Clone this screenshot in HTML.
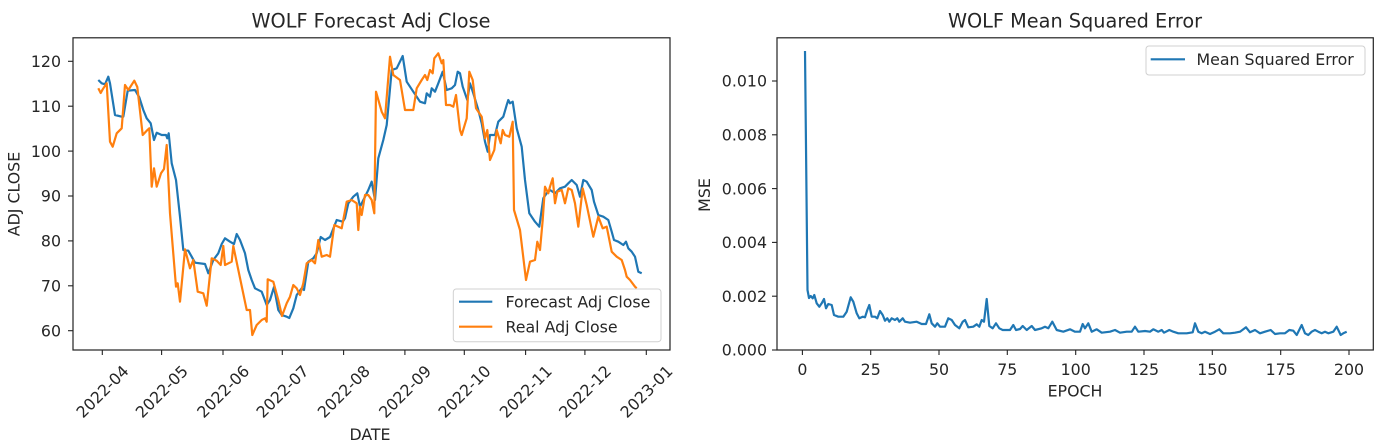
<!DOCTYPE html>
<html><head><meta charset="utf-8"><style>
html,body{margin:0;padding:0;background:#fff;}
svg{display:block;}
text{font-family:"DejaVu Sans","Liberation Sans",sans-serif;fill:#262626;}
.t{font-size:15.8px;}
.ti{font-size:19.3px;}
</style></head><body>
<svg width="1379" height="447" viewBox="0 0 1379 447" xmlns="http://www.w3.org/2000/svg">
<rect width="1379" height="447" fill="#fff"/>

<!-- LEFT CHART -->
<text class="ti" x="371" y="27.7" text-anchor="middle">WOLF Forecast Adj Close</text>

<polyline fill="none" stroke="#1f77b4" stroke-width="2.2" stroke-linejoin="round" points="98.3,80 101.7,83.3 105,84.3 108.3,76.7 110,83.3 115,115 121.7,116.7 123.3,116.7 127.7,90.7 135,90 139.3,97.3 143.3,110 146.7,118.3 150.7,123.3 154,140 156.7,132.7 161.7,135 166,135 167.3,138.3 168.7,133.3 171.7,163.3 176,180 180,216.7 183.3,250 188.3,250.7 191.7,256.7 195,262.7 205,264 208.3,273.3 213.3,260 218.3,253.3 221.7,244 225,238.3 230,241.7 234,244 236.7,234 240,240 245,253.3 248.3,270 251.7,280 255,288.3 261.7,291.7 266.7,305 270,300 274,287 278.3,310 281.7,315 286.7,316.7 289.3,318 293.3,308.3 296.7,295 301.7,288.3 304,290 308.3,261.7 313.3,258.3 316.7,253.3 320.7,237 325,240 330,237 336.7,220 342.7,221.7 345,218.3 348.3,203.3 353.3,196.7 357.3,193.3 360,206.7 365,196.7 368.3,190 371.7,181.7 375,200 378.3,158.3 383.3,140 386.7,125 391.7,70 396.7,68.3 402.7,56 406.7,81.7 413.3,91.7 420,101.7 425,103.3 426.7,93.3 430,96.7 431.7,88.3 435,91.7 438.3,83.3 442.7,71.7 446.7,90 451.7,88.3 455,85 457.7,71.7 460,73.3 462.7,86.7 467.3,100 470,83.3 473.3,93.3 478.3,110 481.7,123.3 485,141.7 487.7,151.7 490,135 495,135 498.3,121.7 503.3,116.7 506.7,105 508.3,100 510,103.3 512.7,101.7 516.7,128.3 521.7,146.7 525,180 529.3,213.3 535,221.7 539.3,226.7 543.3,198.3 546.7,193.3 550,190 555,193.3 560,188.3 565,186.7 568.3,183.3 571.7,180 576.7,185 580,196.7 583.3,180 586.7,181.7 591.7,190 594,201.7 598.3,215 603.3,216.7 608.3,220 611.7,231.7 614,240 618.3,241.7 623.3,245 626,241.7 628.3,248.3 631.7,251.7 635,256.7 638.3,271.7 641.7,273.3"/>

<polyline fill="none" stroke="#ff7f0e" stroke-width="2.2" stroke-linejoin="round" points="98.3,88.3 100.7,93 102.7,89.3 106.7,83.3 110,141.7 112.7,146.7 116.7,133.3 121.7,128.3 125,85 128.3,90 134.3,80.7 137.3,87 142.7,135 146.7,130.7 149.3,128.3 151.7,186.7 154,168.3 156.7,186.7 161,173.3 164,169 166.7,145 170,213.3 176,286.7 177.7,283.3 180,301.7 185,249.3 190,268.3 193.3,260 197.7,291.7 203.3,293.3 206.7,305.7 211.7,258.3 216.7,260.7 220.7,265 223.3,246 225,265 231.7,261.7 233.3,246 246.7,310 250,310 252.3,335 256.7,325 261.7,320 265,318.3 266.7,321.7 267.7,279.3 273.3,281.7 278.3,300 282,316 286.7,303.3 290,296.7 293.3,285 296.7,288.3 300,295 303.3,283.3 306.7,263.3 311.7,260 315,263.3 318.3,240 321.7,256.7 326.7,255 330,256.7 334.3,225 338.3,226.7 341.7,228.3 346.7,201.7 351.7,200 356.7,203.3 358.3,230 360,206.7 361.7,215 365,195 368.3,195 371.7,200 374.3,213.3 376,91.7 381.7,111.7 385,118.3 390,56.7 393.3,75 400,80 405,110 413.3,110 416.7,88.3 421.7,80 425,75 427.3,80 430,70 432.7,73.3 434.3,58.3 438.3,53.3 441.7,63.3 443.3,60 446,105 450,105 453.3,106.7 456,95 460,130 461.7,135 466.7,118.3 469.3,71.7 472.7,80 476,108.3 481.7,116.7 485,138.3 487.3,130 490,160 494.3,150 496.7,130 500.7,143.3 502.7,130 505,135 509.3,136.7 512.7,121.7 514,210 520,230 526,280 530,261.7 535,260 537.3,241.7 540,250 542.7,220 545,186.7 548.3,193.3 550,186.7 552.7,178.3 555,203.3 557.3,191.7 561.7,190 565,203.3 568.3,188.3 571.7,190 575,203.3 578.3,226.7 582.7,188.3 586.7,205 593.3,236.7 598.3,216.7 602.7,228.3 606.7,226.7 611.7,251.7 616.7,256.7 621.7,260 625,270 626.7,276.7 630,280 635,286.7 636.7,288.3"/>

<rect x="73" y="37.8" width="597" height="312.2" fill="none" stroke="#222" stroke-width="1.2"/>

<!-- left y ticks -->
<g stroke="#222" stroke-width="1.1">
<line x1="68" y1="61.3" x2="73" y2="61.3"/><line x1="68" y1="106.2" x2="73" y2="106.2"/><line x1="68" y1="151.1" x2="73" y2="151.1"/><line x1="68" y1="196" x2="73" y2="196"/><line x1="68" y1="240.9" x2="73" y2="240.9"/><line x1="68" y1="285.8" x2="73" y2="285.8"/><line x1="68" y1="330.7" x2="73" y2="330.7"/>
</g>
<g class="t" text-anchor="end">
<text class="t" x="61" y="67">120</text><text class="t" x="61" y="111.9">110</text><text class="t" x="61" y="156.8">100</text><text class="t" x="61" y="201.7">90</text><text class="t" x="61" y="246.6">80</text><text class="t" x="61" y="291.5">70</text><text class="t" x="61" y="336.4">60</text>
</g>

<!-- left x ticks -->
<g stroke="#222" stroke-width="1.1">
<line x1="102.3" y1="350" x2="102.3" y2="355"/><line x1="161.6" y1="350" x2="161.6" y2="355"/><line x1="223" y1="350" x2="223" y2="355"/><line x1="282.3" y1="350" x2="282.3" y2="355"/><line x1="343.6" y1="350" x2="343.6" y2="355"/><line x1="404.9" y1="350" x2="404.9" y2="355"/><line x1="464.3" y1="350" x2="464.3" y2="355"/><line x1="525.6" y1="350" x2="525.6" y2="355"/><line x1="584.9" y1="350" x2="584.9" y2="355"/><line x1="646.3" y1="350" x2="646.3" y2="355"/>
</g>
<g>
<text class="t" text-anchor="middle" y="5.7" transform="translate(102.3,391.5) rotate(-45)">2022-04</text>
<text class="t" text-anchor="middle" y="5.7" transform="translate(161.6,391.5) rotate(-45)">2022-05</text>
<text class="t" text-anchor="middle" y="5.7" transform="translate(223,391.5) rotate(-45)">2022-06</text>
<text class="t" text-anchor="middle" y="5.7" transform="translate(282.3,391.5) rotate(-45)">2022-07</text>
<text class="t" text-anchor="middle" y="5.7" transform="translate(343.6,391.5) rotate(-45)">2022-08</text>
<text class="t" text-anchor="middle" y="5.7" transform="translate(404.9,391.5) rotate(-45)">2022-09</text>
<text class="t" text-anchor="middle" y="5.7" transform="translate(464.3,391.5) rotate(-45)">2022-10</text>
<text class="t" text-anchor="middle" y="5.7" transform="translate(525.6,391.5) rotate(-45)">2022-11</text>
<text class="t" text-anchor="middle" y="5.7" transform="translate(584.9,391.5) rotate(-45)">2022-12</text>
<text class="t" text-anchor="middle" y="5.7" transform="translate(646.3,391.5) rotate(-45)">2023-01</text>
</g>
<text class="t" x="370" y="440" text-anchor="middle">DATE</text>
<text class="t" text-anchor="middle" transform="translate(19.5,194) rotate(-90)">ADJ CLOSE</text>

<!-- left legend -->
<rect x="453.3" y="289" width="207.7" height="52.7" rx="3" fill="#fff" fill-opacity="0.8" stroke="#d0d0d0" stroke-width="1"/>
<line x1="459" y1="301.7" x2="492.3" y2="301.7" stroke="#1f77b4" stroke-width="2.2"/>
<line x1="459" y1="326.7" x2="492.3" y2="326.7" stroke="#ff7f0e" stroke-width="2.2"/>
<text class="t" x="505.5" y="307.5">Forecast Adj Close</text>
<text class="t" x="505.5" y="332.5">Real Adj Close</text>

<!-- RIGHT CHART -->
<text class="ti" x="1075" y="27.7" text-anchor="middle">WOLF Mean Squared Error</text>

<polyline fill="none" stroke="#1f77b4" stroke-width="2.2" stroke-linejoin="round" points="805,51 807.5,290 809,298 810.7,296 812.7,298.3 814.3,295 816.7,303.3 819.3,306.7 821.7,303.3 824,299 826,308.3 828.3,304 831.7,305 834,315 838.3,316.7 843.3,316.7 846.7,311.7 850.7,297.3 853.3,301.7 856.7,313.3 859.3,318.3 862.7,316.7 865,317.3 867.3,310 869.3,305 871.7,316.7 875,316.7 877.3,318.3 880,311 882.7,315 885,320.7 887.3,318.3 889.3,321.7 891.7,318.3 895,320 897.3,318.3 899.3,321.7 902.7,318.3 905,321.7 910,322.7 916.7,321.7 921.7,324 926,324 929.3,314.3 931.7,323.3 935,326.7 937.3,323.3 940,326.7 945,326.7 948.3,318.3 951.7,320 955,325 959.3,328.3 962.7,321.7 965,320 968.3,327.3 973.3,326.7 976.7,324.3 979.3,326.7 981.7,320 984,321.7 986.7,299 989.3,326 992.7,328.3 996,323.3 999.3,328.3 1002.7,330 1010,330 1013.3,325 1016,330 1020,329 1022.7,326 1026.7,330 1031.7,326 1035,330 1041.7,328.3 1045,326.7 1048.3,328.3 1052.3,321.7 1056.7,330 1063.3,331.7 1070,329.3 1075,331.7 1080,331.7 1082.7,324 1085,328.3 1088.3,323.3 1091.7,331.7 1096.7,329.3 1101.7,332.7 1110,331.7 1115,330 1120,332.7 1126.7,331.7 1131.7,331.7 1135,326.7 1138.3,331.7 1145,331 1150,331.7 1153.3,329.3 1158.3,331.7 1161.7,330 1164,332.7 1169.3,330 1173.3,331.7 1178.3,333.3 1186.7,333.3 1192.7,332.3 1195,323.3 1198.3,331.7 1201.7,333.3 1205,331.7 1210,334 1215,331.7 1219.3,329.3 1223.3,333.3 1230,333.3 1235,332.7 1240,331.7 1246,327.3 1250,332.3 1255,330 1260,333.3 1265,331.7 1270.7,330 1275,334 1280,333.3 1285,333.3 1289.3,330 1293.3,330.7 1296.7,335 1301.7,325 1305,333.3 1308.3,335 1311.7,331.7 1315,330 1318.3,331.7 1321.7,333.3 1325,331.7 1328.3,333.3 1333.3,331.7 1336.7,326.7 1340.7,335 1343.3,333.3 1346.7,331.7"/>

<rect x="777" y="37.8" width="596.3" height="312.2" fill="none" stroke="#222" stroke-width="1.2"/>

<g stroke="#222" stroke-width="1.1">
<line x1="772" y1="81" x2="777" y2="81"/><line x1="772" y1="134.8" x2="777" y2="134.8"/><line x1="772" y1="188.6" x2="777" y2="188.6"/><line x1="772" y1="242.4" x2="777" y2="242.4"/><line x1="772" y1="296.2" x2="777" y2="296.2"/><line x1="772" y1="350" x2="777" y2="350"/>
<line x1="802.4" y1="350" x2="802.4" y2="355"/><line x1="870.7" y1="350" x2="870.7" y2="355"/><line x1="939" y1="350" x2="939" y2="355"/><line x1="1007.3" y1="350" x2="1007.3" y2="355"/><line x1="1075.7" y1="350" x2="1075.7" y2="355"/><line x1="1144" y1="350" x2="1144" y2="355"/><line x1="1212.3" y1="350" x2="1212.3" y2="355"/><line x1="1280.7" y1="350" x2="1280.7" y2="355"/><line x1="1349" y1="350" x2="1349" y2="355"/>
</g>
<g>
<text class="t" x="767" y="86.7" text-anchor="end">0.010</text>
<text class="t" x="767" y="140.5" text-anchor="end">0.008</text>
<text class="t" x="767" y="194.3" text-anchor="end">0.006</text>
<text class="t" x="767" y="248.1" text-anchor="end">0.004</text>
<text class="t" x="767" y="301.9" text-anchor="end">0.002</text>
<text class="t" x="767" y="355.7" text-anchor="end">0.000</text>
</g>
<g>
<text class="t" x="802.4" y="375" text-anchor="middle">0</text>
<text class="t" x="870.7" y="375" text-anchor="middle">25</text>
<text class="t" x="939" y="375" text-anchor="middle">50</text>
<text class="t" x="1007.3" y="375" text-anchor="middle">75</text>
<text class="t" x="1075.7" y="375" text-anchor="middle">100</text>
<text class="t" x="1144" y="375" text-anchor="middle">125</text>
<text class="t" x="1212.3" y="375" text-anchor="middle">150</text>
<text class="t" x="1280.7" y="375" text-anchor="middle">175</text>
<text class="t" x="1349" y="375" text-anchor="middle">200</text>
</g>
<text class="t" x="1075" y="396.5" text-anchor="middle">EPOCH</text>
<text class="t" text-anchor="middle" transform="translate(710,195) rotate(-90)">MSE</text>

<!-- right legend -->
<rect x="1146" y="46" width="219" height="29" rx="3" fill="#fff" fill-opacity="0.8" stroke="#d0d0d0" stroke-width="1"/>
<line x1="1150.7" y1="59.3" x2="1185" y2="59.3" stroke="#1f77b4" stroke-width="2.2"/>
<text class="t" x="1196.5" y="65">Mean Squared Error</text>
</svg>
</body></html>
